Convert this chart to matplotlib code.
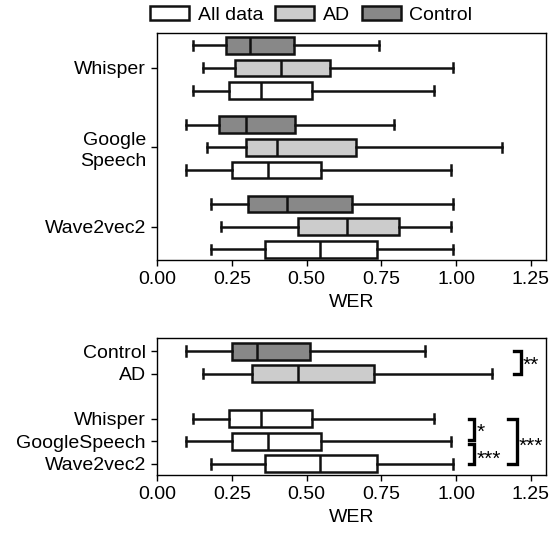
import matplotlib

matplotlib.use("Agg")

import matplotlib.pyplot as plt  # noqa: E402
from matplotlib.patches import Patch  # noqa: E402

plt.rcParams["font.family"] = ["Liberation Sans", "DejaVu Sans"]
plt.rcParams["font.size"] = 14

# Box statistics: (whislo, q1, median, q3, whishi)
models = ["Whisper", "Google\nSpeech", "Wave2vec2"]
control_stats = [
    (0.121, 0.232, 0.310, 0.457, 0.743),
    (0.097, 0.208, 0.299, 0.462, 0.791),
    (0.181, 0.304, 0.434, 0.651, 0.990),
]
ad_stats = [
    (0.152, 0.260, 0.416, 0.579, 0.990),
    (0.168, 0.297, 0.401, 0.666, 1.152),
    (0.214, 0.472, 0.634, 0.808, 0.982),
]
all_stats = [
    (0.121, 0.241, 0.347, 0.518, 0.926),
    (0.097, 0.252, 0.371, 0.549, 0.982),
    (0.181, 0.360, 0.546, 0.734, 0.990),
]

bottom_labels = ["Control", "AD", "Whisper", "GoogleSpeech", "Wave2vec2"]
bottom_stats = [
    (0.097, 0.252, 0.334, 0.510, 0.897),
    (0.152, 0.319, 0.472, 0.727, 1.121),
    all_stats[0],
    all_stats[1],
    all_stats[2],
]
bottom_pos = [0, 1, 3, 4, 5]

COL_ALL = "white"
COL_AD = "#cccccc"
COL_CTRL = "#888888"
EDGE = "#111111"
LW = 1.8


def to_bxp(stats):
    return [dict(whislo=s[0], q1=s[1], med=s[2], q3=s[3], whishi=s[4], fliers=[])
            for s in stats]


def draw(ax, stats, positions, color, width):
    ax.bxp(
        to_bxp(stats), positions=positions, widths=width, vert=False,
        patch_artist=True, showfliers=False,
        boxprops=dict(facecolor=color, edgecolor=EDGE, linewidth=LW),
        medianprops=dict(color=EDGE, linewidth=LW),
        whiskerprops=dict(color=EDGE, linewidth=LW),
        capprops=dict(color=EDGE, linewidth=LW),
        capwidths=width * 0.55,
    )


fig = plt.figure(figsize=(5.53, 5.38), dpi=100)
ax1 = fig.add_axes([0.284, 0.5167, 0.703, 0.422])
ax2 = fig.add_axes([0.284, 0.1171, 0.703, 0.2546])

# top panel: three groups per model
off = 0.286
w = 0.21
base = [0, 1, 2]
draw(ax1, control_stats, [b - off for b in base], COL_CTRL, w)
draw(ax1, ad_stats, base, COL_AD, w)
draw(ax1, all_stats, [b + off for b in base], COL_ALL, w)
ax1.set_yticks(base)
ax1.set_yticklabels(models, linespacing=1.3)
ax1.set_ylim(2.42, -0.44)

# bottom panel
draw(ax2, bottom_stats[:1], bottom_pos[:1], COL_CTRL, 0.75)
draw(ax2, bottom_stats[1:2], bottom_pos[1:2], COL_AD, 0.75)
draw(ax2, bottom_stats[2:], bottom_pos[2:], COL_ALL, 0.75)
ax2.set_yticks(bottom_pos)
ax2.set_yticklabels(bottom_labels)
ax2.set_ylim(5.49, -0.58)

for ax in (ax1, ax2):
    ax.set_xlim(0, 1.3)
    ax.set_xticks([0, 0.25, 0.5, 0.75, 1.0, 1.25])
    ax.set_xticklabels(["0.00", "0.25", "0.50", "0.75", "1.00", "1.25"])
    ax.set_xlabel("WER", fontsize=14)
    ax.tick_params(length=4.5, width=1.0, labelsize=14)
    for sp in ax.spines.values():
        sp.set_linewidth(1.0)


def bracket(ax, x, y0, y1, arm, label, tx, ty):
    ax.plot([x - arm, x, x, x - arm], [y0, y0, y1, y1], color="black",
            lw=2.4, solid_joinstyle="miter", clip_on=False)
    ax.text(tx, ty, label, ha="left", va="center", fontsize=15)


bracket(ax2, 1.216, 0, 1, 0.023, "**", 1.222, 0.65)
bracket(ax2, 1.060, 3, 3.92, 0.018, "*", 1.068, 3.6)
bracket(ax2, 1.060, 4.1, 5, 0.018, "***", 1.068, 4.8)
bracket(ax2, 1.203, 3, 5, 0.029, "***", 1.208, 4.2)

handles = [
    Patch(facecolor=COL_ALL, edgecolor=EDGE, linewidth=LW, label="All data"),
    Patch(facecolor=COL_AD, edgecolor=EDGE, linewidth=LW, label="AD"),
    Patch(facecolor=COL_CTRL, edgecolor=EDGE, linewidth=LW, label="Control"),
]
fig.legend(handles=handles, loc="center", bbox_to_anchor=(0.563, 1 - 15 / 538),
           ncol=3, frameon=False, fontsize=14, handlelength=2.0,
           handleheight=0.75, handletextpad=0.45, columnspacing=0.6,
           borderpad=0.2)

fig.savefig("out.png", dpi=100)
plt.close(fig)
